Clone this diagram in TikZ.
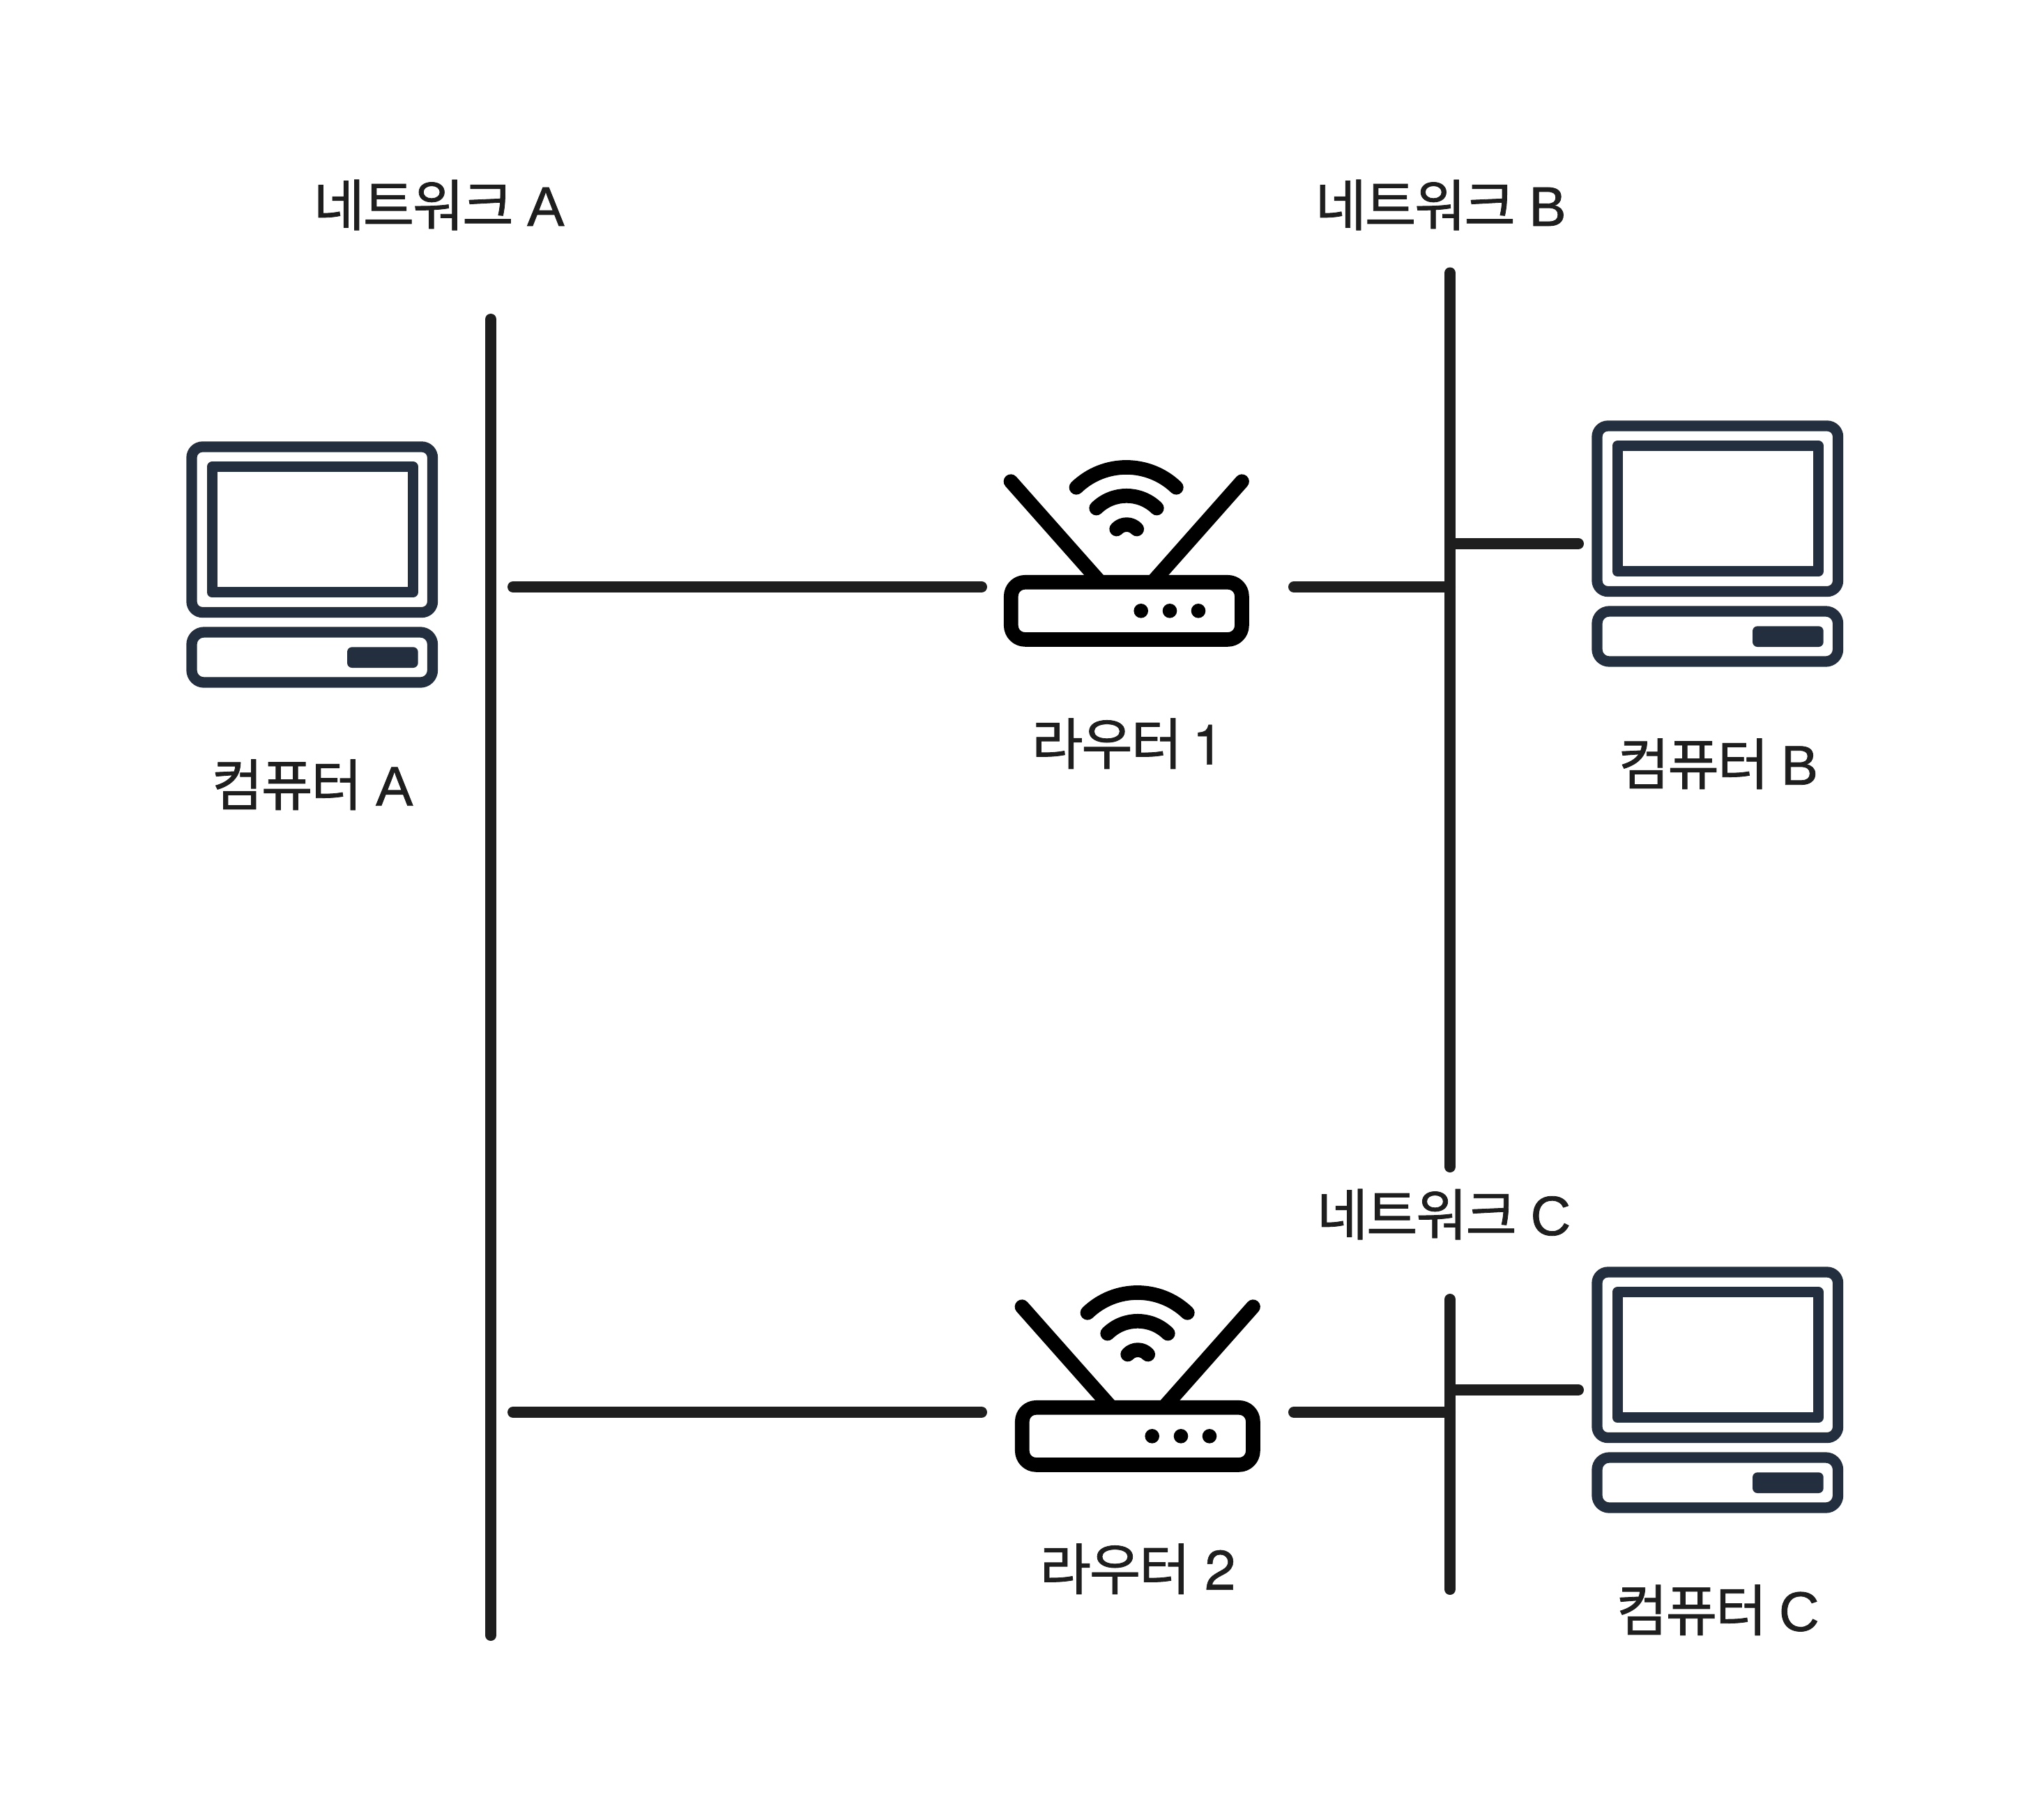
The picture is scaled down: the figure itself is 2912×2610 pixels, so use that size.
\documentclass[tikz,border=0pt]{standalone}
\usepackage{fontspec}
\setmainfont[LetterSpace=-3,FakeBold=1.0]{Noto Sans CJK KR}
\newfontfamily\latinf[FakeBold=1.0]{Liberation Sans}
\newfontfamily\digitf[FakeBold=0.6]{TeX Gyre Heros}
\definecolor{linecol}{HTML}{1E1E1E}
\definecolor{pccol}{HTML}{232F3E}
\newcommand{\gap}[1]{\hspace{#1pt}}
\tikzset{
  every node/.style={inner sep=0pt,outer sep=0pt},
  label text/.style={anchor=base,text=linecol,font=\fontsize{80}{96}\selectfont},
  wire/.style={draw=linecol,line width=16pt,line cap=round},
  pc thick/.style={draw=pccol,line width=15.3pt},
  router stroke/.style={draw=black,line width=20.7pt,line cap=round,line join=round},
}
\newcommand{\pcicon}[2]{%
  \begin{scope}[shift={(#1,#2)}]
    \draw[pc thick,rounded corners=15.5pt] (275,641) rectangle (620.5,878.5);
    \draw[pc thick,line join=round] (304.3,669.7) rectangle (592.2,849.8);
    \draw[pc thick,rounded corners=17.5pt] (275,907) rectangle (620.5,979);
    \fill[pccol,rounded corners=7pt] (498,928.3) rectangle (599.7,958);
  \end{scope}}
\newcommand{\routericon}[2]{%
  \begin{scope}[shift={(#1,#2)}]
    \draw[router stroke] (1450,690.7) -- (1576.2,833);
    \draw[router stroke] (1781.5,690.7) -- (1655.3,833);
    \draw[router stroke,rounded corners=20pt] (1450.3,835.3) rectangle (1781.4,917.4);
    \draw[router stroke] (1544,699.3) .. controls (1584,660.8) and (1647.3,660.8) .. (1687.3,699.3);
    \draw[router stroke] (1572.7,729) .. controls (1596.7,705.4) and (1635.3,705.4) .. (1659.3,729);
    \draw[router stroke] (1601.7,759) .. controls (1609.4,750.5) and (1623,750.5) .. (1630.7,759);
    \fill[black] (1636.7,876.3) circle[radius=10.3pt] (1678,876.3) circle[radius=10.3pt] (1719,876.3) circle[radius=10.3pt];
  \end{scope}}
\begin{document}
\begin{tikzpicture}[x=1pt,y=-1pt]
  \useasboundingbox (0,0) rectangle (2912,2610);
  \fill[white] (0,0) rectangle (2912,2610);

  % icons
  \pcicon{0}{0}
  \pcicon{2016}{-30}
  \pcicon{2016}{1184}
  \routericon{0}{0}
  \routericon{16}{1184}

  % connection points
  \coordinate (netAtop) at (704,458);
  \coordinate (netAbot) at (704,2346);
  \coordinate (netBtop) at (2080,391.5);
  \coordinate (netBbot) at (2080,1674);
  \coordinate (netCtop) at (2080,1864);
  \coordinate (netCbot) at (2080,2280);
  \coordinate (aRone) at (736,842);
  \coordinate (rOneA) at (1408,842);
  \coordinate (rOneB) at (1856,842);
  \coordinate (bRone) at (2080,842);
  \coordinate (bPc) at (2080,780);
  \coordinate (pcB) at (2264,780);
  \coordinate (aRtwo) at (736,2026);
  \coordinate (rTwoA) at (1408,2026);
  \coordinate (rTwoC) at (1856,2026);
  \coordinate (cRtwo) at (2080,2026);
  \coordinate (cPc) at (2080,1994);
  \coordinate (pcC) at (2264,1994);

  % connectors
  \draw[wire] (netAtop) -- (netAbot);
  \draw[wire] (netBtop) -- (netBbot);
  \draw[wire] (netCtop) -- (netCbot);
  \draw[wire] (aRone) -- (rOneA);
  \draw[wire] (rOneB) -- (bRone);
  \draw[wire] (bPc) -- (pcB);
  \draw[wire] (aRtwo) -- (rTwoA);
  \draw[wire] (rTwoC) -- (cRtwo);
  \draw[wire] (cPc) -- (pcC);

  % labels
  \node[label text] (lnetA) at (629.5,324) {네트워크 \gap{4}{\latinf A}};
  \node[label text] (lnetB) at (2066.6,324) {네트워크 \gap{4}{\latinf B}};
  \node[label text] (lnetC) at (2071,1772) {네트워크 \gap{4}{\latinf C}};
  \node[label text] (lpcA) at (448,1155.7) {컴퓨터 \gap{4}{\latinf A}};
  \node[label text] (lpcB) at (2464.6,1125.7) {컴퓨터 \gap{2}{\latinf B}};
  \node[label text] (lpcC) at (2464,2339.7) {컴퓨터 \gap{2}{\latinf C}};
  \node[label text] (lrOne) at (1617.5,1096.6) {라우터 \gap{-1}{\digitf 1}};
  \node[label text] (lrTwo) at (1632,2280.6) {라우터 \gap{5}{\digitf 2}};
\end{tikzpicture}
\end{document}
